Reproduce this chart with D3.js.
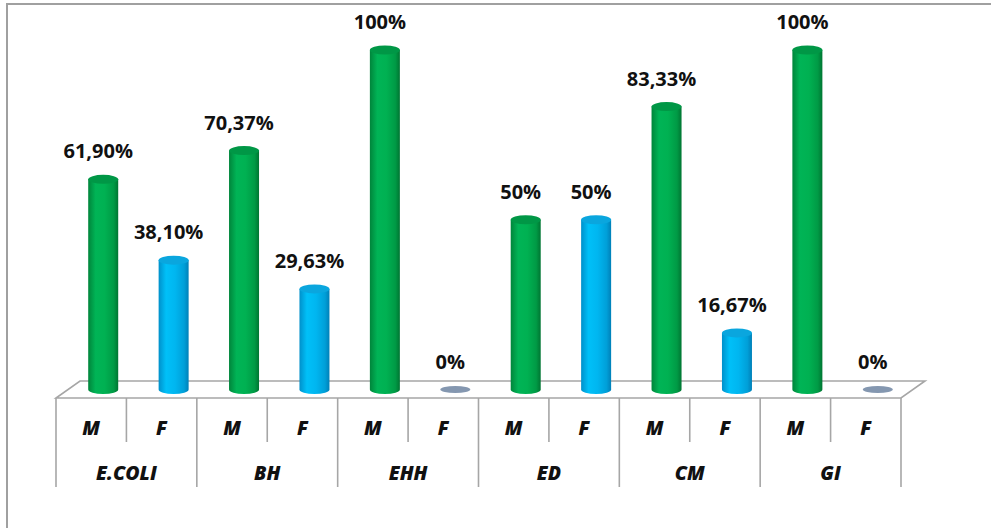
<!DOCTYPE html>
<html>
<head>
<meta charset="utf-8">
<script src="https://cdn.jsdelivr.net/npm/d3@7"></script>
<style>
  html, body { margin: 0; padding: 0; background: #ffffff; }
  svg { display: block; }
</style>
</head>
<body>
<svg id="chart" width="991" height="528"></svg>
<script>
// ---- data ----
const categories = ["E.COLI", "BH", "EHH", "ED", "CM", "GI"];
const sexes = ["M", "F"];
const valuesM = [61.90, 70.37, 100, 50, 83.33, 100];
const valuesF = [38.10, 29.63, 0, 50, 16.67, 0];
const labelsM = ["61,90%", "70,37%", "100%", "50%", "83,33%", "100%"];
const labelsF = ["38,10%", "29,63%", "0%", "50%", "16,67%", "0%"];

const rows = [];
categories.forEach((c, i) => {
  rows.push({cat: c, sex: "M", value: valuesM[i], label: labelsM[i]});
  rows.push({cat: c, sex: "F", value: valuesF[i], label: labelsF[i]});
});

const svg = d3.select("#chart");
const W = 991, H = 528;

// layout
const x0 = 56, x1 = 901;          // front edge of floor
const yFront = 398;               // front floor line
const depthX = 24, depthY = -17;  // 3D depth offset
const barDX = depthX / 2, barDY = depthY / 2;
const yBase = yFront + barDY;     // bar base

const xCat = d3.scaleBand().domain(categories).range([x0, x1]).padding(0);
const xSex = d3.scaleBand().domain(sexes).range([0, xCat.bandwidth()]).padding(0);
const y = d3.scaleLinear().domain([0, 100]).range([yBase, 50]);

const gridColor = "#a6a6a6";

// outer border (left and top)
svg.append("path")
  .attr("d", `M7,${H} L7,4 L${W},4`)
  .attr("fill", "none").attr("stroke", "#a0a0a0").attr("stroke-width", 2);

// gradients
const defs = svg.append("defs");
function grad(id, stops) {
  const g = defs.append("linearGradient").attr("id", id)
    .attr("x1", "0%").attr("x2", "100%").attr("y1", "0%").attr("y2", "0%");
  stops.forEach(s => g.append("stop").attr("offset", s[0]).attr("stop-color", s[1]));
}
grad("gM", [["0%", "#00853b"], ["25%", "#00b456"], ["55%", "#00b152"], ["85%", "#009a45"], ["100%", "#007532"]]);
grad("gF", [["0%", "#0090ca"], ["25%", "#00c0f8"], ["55%", "#00b6f0"], ["85%", "#009fd8"], ["100%", "#0080b8"]]);
const topColor = {M: "#009746", F: "#0aa6de"};

// floor
const floor = [[x0, yFront], [x1, yFront], [x1 + depthX, yFront + depthY], [x0 + depthX, yFront + depthY]];
svg.append("path")
  .attr("d", d3.line()(floor) + "Z")
  .attr("fill", "#ffffff").attr("stroke", gridColor).attr("stroke-width", 1.6);

// axis divider lines
const axisG = svg.append("g");
categories.forEach(c => {
  const xc = xCat(c);
  axisG.append("line").attr("x1", xc).attr("x2", xc).attr("y1", yFront).attr("y2", 487)
    .attr("stroke", gridColor).attr("stroke-width", 1.6);
  axisG.append("line").attr("x1", xc + xSex("F")).attr("x2", xc + xSex("F")).attr("y1", yFront).attr("y2", 442)
    .attr("stroke", gridColor).attr("stroke-width", 1.6);
});
axisG.append("line").attr("x1", x1).attr("x2", x1).attr("y1", yFront).attr("y2", 487)
  .attr("stroke", gridColor).attr("stroke-width", 1.6);

// axis labels
const labFont = "'Open Sans', 'DejaVu Sans', sans-serif";
rows.forEach(r => {
  svg.append("text")
    .attr("x", xCat(r.cat) + xSex(r.sex) + xSex.bandwidth() / 2)
    .attr("y", 428).attr("dy", "0.35em")
    .attr("text-anchor", "middle")
    .attr("font-family", labFont).attr("font-weight", 800).attr("font-style", "italic")
    .attr("font-size", 19.5).attr("fill", "#111111")
    .text(r.sex);
});
categories.forEach(c => {
  svg.append("text")
    .attr("x", xCat(c) + xCat.bandwidth() / 2)
    .attr("y", 473).attr("dy", "0.35em")
    .attr("text-anchor", "middle")
    .attr("font-family", labFont).attr("font-weight", 800).attr("font-style", "italic")
    .attr("font-size", 19.5).attr("fill", "#111111")
    .text(c);
});

// cylinders
const rx = 15, ry = 4.5;
const bars = svg.append("g");
rows.forEach(r => {
  const cx = xCat(r.cat) + xSex(r.sex) + xSex.bandwidth() / 2 + barDX;
  const yt = y(r.value);
  if (r.value <= 0) {
    bars.append("ellipse").attr("cx", cx).attr("cy", yBase).attr("rx", rx).attr("ry", 3.5)
      .attr("fill", "#8497b0");
  } else {
    const d = `M${cx - rx},${yt} L${cx - rx},${yBase} A${rx},${ry} 0 0 0 ${cx + rx},${yBase} L${cx + rx},${yt} Z`;
    bars.append("path").attr("d", d).attr("fill", `url(#g${r.sex})`);
    bars.append("ellipse").attr("cx", cx).attr("cy", yt).attr("rx", rx).attr("ry", ry)
      .attr("fill", topColor[r.sex]);
  }
  svg.append("text")
    .attr("x", cx - 5).attr("y", yt - 28).attr("dy", "0.35em")
    .attr("text-anchor", "middle")
    .attr("font-family", labFont).attr("font-weight", 700)
    .attr("font-size", 20).attr("fill", "#111111")
    .text(r.label);
});
</script>
</body>
</html>
